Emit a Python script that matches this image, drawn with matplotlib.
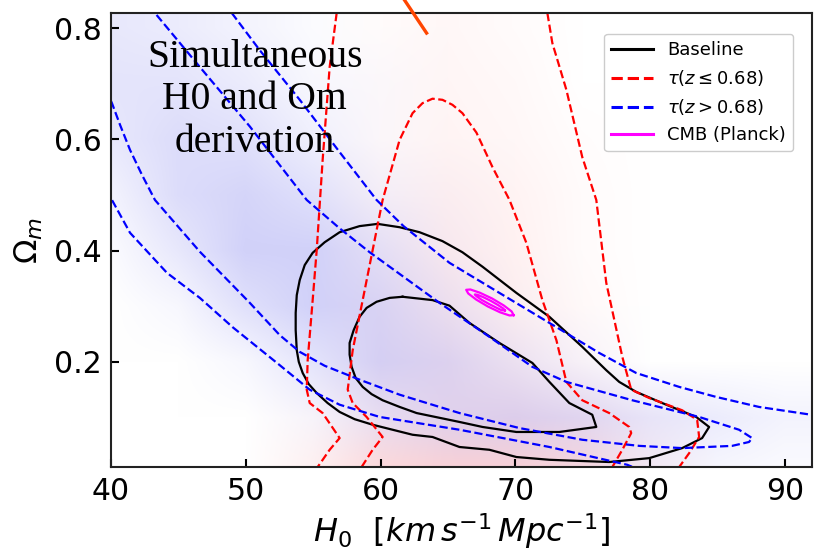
import matplotlib
matplotlib.use("Agg")
import matplotlib.pyplot as plt
import numpy as np

# background likelihood shading (rows: Om, cols: H0)
grid_h0 = [40, 45, 50, 55, 60, 65, 70, 75, 80, 85, 90]
grid_om = [0.0, 0.1, 0.2, 0.3, 0.4, 0.5, 0.6, 0.7, 0.8]
blue_weight = [
    [0, 0, 0, 0, 0, 0.05, 0.05, 0.1, 0.15, 0.1, 0.05],
    [0, 0, 0, 0.1, 0.3, 0.4, 0.45, 0.4, 0.3, 0.25, 0.15],
    [0, 0, 0.1, 0.35, 0.55, 0.45, 0.25, 0.1, 0, 0, 0],
    [0, 0.1, 0.4, 0.6, 0.5, 0.25, 0.05, 0, 0, 0, 0],
    [0.05, 0.3, 0.6, 0.6, 0.35, 0.1, 0, 0, 0, 0, 0],
    [0.15, 0.45, 0.55, 0.4, 0.15, 0.05, 0, 0, 0, 0, 0],
    [0.3, 0.45, 0.4, 0.2, 0.05, 0, 0, 0, 0, 0, 0],
    [0.35, 0.35, 0.25, 0.1, 0.05, 0, 0, 0, 0, 0, 0],
    [0.3, 0.25, 0.15, 0.05, 0, 0, 0, 0, 0, 0, 0],
]
red_weight = [
    [0, 0, 0, 0.2, 0.5, 0.55, 0.55, 0.45, 0.15, 0, 0],
    [0, 0, 0, 0.05, 0.15, 0.2, 0.2, 0.15, 0.05, 0, 0],
    [0, 0, 0, 0, 0.08, 0.15, 0.15, 0.08, 0, 0, 0],
    [0, 0, 0, 0, 0.08, 0.18, 0.18, 0.08, 0, 0, 0],
    [0, 0, 0, 0, 0.08, 0.2, 0.18, 0.05, 0, 0, 0],
    [0, 0, 0, 0, 0.08, 0.18, 0.15, 0.05, 0, 0, 0],
    [0, 0, 0, 0, 0.06, 0.14, 0.1, 0.03, 0, 0, 0],
    [0, 0, 0, 0, 0.05, 0.12, 0.08, 0, 0, 0, 0],
    [0, 0, 0, 0, 0.05, 0.1, 0.05, 0, 0, 0, 0],
]

# Baseline contours
base_outer_h0 = [59.78, 61.41, 62.89, 64.59, 66.07, 67.56, 70.07, 72.52, 74.96, 76.74, 77.70, 78.96,
                 80.89, 83.41, 84.37, 83.85, 82.37, 79.93, 76.96, 72.52, 70.07, 68.07, 65.85, 63.85,
                 62.37, 59.41, 58.07, 56.96, 56.07, 55.26, 54.67, 54.22, 53.93, 53.78, 53.70, 53.70,
                 53.78, 54.0, 54.37, 54.96, 55.85, 56.96, 58.44, 59.78]
base_outer_om = [0.448, 0.442, 0.433, 0.417, 0.397, 0.371, 0.324, 0.281, 0.227, 0.185, 0.164, 0.146,
                 0.126, 0.101, 0.083, 0.063, 0.045, 0.027, 0.020, 0.024, 0.029, 0.042, 0.047, 0.065,
                 0.069, 0.087, 0.097, 0.110, 0.126, 0.144, 0.160, 0.180, 0.200, 0.221, 0.257, 0.288,
                 0.320, 0.347, 0.374, 0.396, 0.415, 0.433, 0.444, 0.448]
base_inner_h0 = [61.63, 63.85, 65.11, 66.59, 68.81, 71.26, 72.52, 74.0, 75.70, 76.0, 73.26, 70.07,
                 67.56, 65.85, 62.67, 61.41, 60.15, 59.33, 58.67, 58.15, 57.85, 57.70, 57.70, 58.0,
                 58.44, 58.96, 59.70, 60.67, 61.63]
base_inner_om = [0.317, 0.311, 0.301, 0.270, 0.234, 0.198, 0.164, 0.126, 0.105, 0.083, 0.074, 0.074,
                 0.083, 0.092, 0.108, 0.119, 0.131, 0.142, 0.155, 0.171, 0.191, 0.213, 0.234, 0.257,
                 0.281, 0.297, 0.308, 0.315, 0.317]

# tau(z <= 0.68) contours (red)
red_outer_left_h0 = [56.74, 56.22, 55.70, 55.26, 54.96, 54.59, 54.52, 54.74, 55.70, 56.96, 56.22, 55.33]
red_outer_left_om = [0.827, 0.730, 0.563, 0.401, 0.311, 0.203, 0.150, 0.126, 0.108, 0.063, 0.042, 0.011]
red_outer_right_h0 = [72.37, 72.74, 73.78, 74.96, 76.0, 76.74, 77.93, 78.59, 79.93, 82.37, 83.48,
                      83.63, 82.89, 82.15]
red_outer_right_om = [0.827, 0.773, 0.689, 0.568, 0.491, 0.342, 0.209, 0.150, 0.135, 0.113, 0.096,
                      0.065, 0.036, 0.011]
red_inner_h0 = [58.59, 59.41, 60.15, 58.96, 57.93, 57.56, 57.93, 58.67, 59.41, 60.15, 61.41, 62.37,
                63.11, 63.85, 64.59, 65.33, 66.07, 67.11, 68.30, 69.56, 70.81, 72.0, 73.04, 73.78,
                74.96, 76.96, 78.44, 78.59, 77.93, 77.19]
red_inner_om = [0.011, 0.042, 0.065, 0.101, 0.126, 0.150, 0.221, 0.311, 0.401, 0.491, 0.599, 0.647,
                0.665, 0.673, 0.671, 0.662, 0.647, 0.612, 0.550, 0.491, 0.414, 0.311, 0.239, 0.164,
                0.131, 0.108, 0.083, 0.072, 0.042, 0.011]

# tau(z > 0.68) contours (blue)
blue_outer_up_h0 = [48.96, 51.04, 54.0, 56.96, 59.70, 61.70, 65.11, 68.81, 72.52, 76.22, 78.96, 82.15,
                    84.89, 88.07, 91.93]
blue_outer_up_om = [0.827, 0.760, 0.671, 0.577, 0.491, 0.444, 0.378, 0.324, 0.270, 0.216, 0.180, 0.155,
                    0.137, 0.119, 0.105]
blue_outer_low_h0 = [39.19, 40.07, 41.41, 44.15, 46.59, 49.04, 52.52, 54.74, 56.96, 59.93, 65.85, 72.52,
                     78.30, 79.19]
blue_outer_low_om = [0.527, 0.491, 0.432, 0.360, 0.315, 0.262, 0.194, 0.150, 0.123, 0.101, 0.078, 0.047,
                     0.015, 0.006]
blue_inner_h0 = [42.89, 43.26, 46.59, 50.30, 54.52, 56.96, 59.19, 64.37, 68.07, 71.26, 73.78, 78.67,
                 83.63, 86.59, 87.56, 87.33, 86.07, 82.37, 79.19, 74.96, 70.30, 65.85, 61.41, 58.44,
                 55.85, 54.0, 52.52, 50.30, 46.59, 43.26, 42.30, 41.41, 40.67, 40.07, 39.56]
blue_inner_om = [0.841, 0.827, 0.730, 0.623, 0.491, 0.440, 0.397, 0.306, 0.245, 0.191, 0.164, 0.131,
                 0.101, 0.078, 0.063, 0.056, 0.049, 0.045, 0.049, 0.060, 0.081, 0.108, 0.141, 0.168,
                 0.193, 0.218, 0.248, 0.306, 0.398, 0.491, 0.536, 0.581, 0.626, 0.665, 0.692]

# CMB (Planck) contours
cmb_outer_h0 = [69.87, 69.56, 68.86, 67.95, 67.09, 66.50, 66.35, 66.66, 67.36, 68.27, 69.13, 69.72, 69.87]
cmb_outer_om = [0.2839, 0.2834, 0.2891, 0.2996, 0.3120, 0.3229, 0.3295, 0.3301, 0.3243, 0.3139,
                0.3015, 0.2906, 0.2839]
cmb_inner_h0 = [69.22, 68.96, 68.61, 68.05, 67.50, 67.12, 66.99, 67.18, 67.61, 68.18, 68.72, 69.11, 69.22]
cmb_inner_om = [0.2924, 0.2929, 0.2971, 0.3039, 0.3114, 0.3178, 0.3211, 0.3206, 0.3164, 0.3096,
                0.3020, 0.2957, 0.2924]

# stray annotation line at the top
stray_h0 = [61.78, 63.41]
stray_om = [0.850, 0.791]

fig = plt.figure(figsize=(8.15, 5.54), dpi=100)
ax = fig.add_axes([0.1362, 0.157, 0.8601, 0.8195])

b = np.array(blue_weight)
r = np.array(red_weight)
rgb = np.dstack([1 - 0.3 * b, 1 - 0.3 * b - 0.3 * r, 1 - 0.04 * b - 0.3 * r]).clip(0, 1)
dx = (grid_h0[1] - grid_h0[0]) / 2
dy = (grid_om[1] - grid_om[0]) / 2
ax.imshow(rgb, origin="lower", aspect="auto", interpolation="bilinear", zorder=0,
          extent=[grid_h0[0] - dx, grid_h0[-1] + dx, grid_om[0] - dy, grid_om[-1] + dy])

lw = 1.6
ax.plot(base_outer_h0, base_outer_om, color="black", lw=lw, label="Baseline")
ax.plot(base_inner_h0, base_inner_om, color="black", lw=lw)
ax.plot(red_outer_left_h0, red_outer_left_om, color="red", ls="--", lw=lw, label=r"$\tau(z \leq 0.68)$")
ax.plot(red_outer_right_h0, red_outer_right_om, color="red", ls="--", lw=lw)
ax.plot(red_inner_h0, red_inner_om, color="red", ls="--", lw=lw)
ax.plot(blue_outer_up_h0, blue_outer_up_om, color="blue", ls="--", lw=lw, label=r"$\tau(z > 0.68)$")
ax.plot(blue_outer_low_h0, blue_outer_low_om, color="blue", ls="--", lw=lw)
ax.plot(blue_inner_h0, blue_inner_om, color="blue", ls="--", lw=lw)
ax.plot(cmb_outer_h0, cmb_outer_om, color="magenta", lw=lw, label="CMB (Planck)")
ax.plot(cmb_inner_h0, cmb_inner_om, color="magenta", lw=lw)
ax.plot(stray_h0, stray_om, color="#ff4500", lw=2.4, clip_on=False, zorder=5)

ax.text(50.67, 0.671, "Simultaneous\nH0 and Om\nderivation", ha="center", va="center",
        multialignment="center", fontsize=28.5, family="Liberation Serif", linespacing=1.2)

ax.set_xlim(40, 92)
ax.set_ylim(0.011, 0.827)
ax.set_xticks([40, 50, 60, 70, 80, 90])
ax.set_yticks([0.2, 0.4, 0.6, 0.8])
ax.tick_params(direction="in", length=6, width=1.5, labelsize=21.5, pad=7)
for s in ax.spines.values():
    s.set_linewidth(1.5)
    s.set_color("#222222")
ax.set_xlabel(r"$H_0\ \ [km\,s^{-1}\,Mpc^{-1}]$", fontsize=23)
ax.set_ylabel(r"$\Omega_m$", fontsize=23, labelpad=6)

leg = ax.legend(loc="upper right", bbox_to_anchor=(0.986, 0.974), fontsize=13, handlelength=2.3,
                frameon=True, edgecolor="#cccccc", framealpha=1)
for line in leg.get_lines():
    line.set_linewidth(2.2)

fig.savefig("out.png", dpi=100)
